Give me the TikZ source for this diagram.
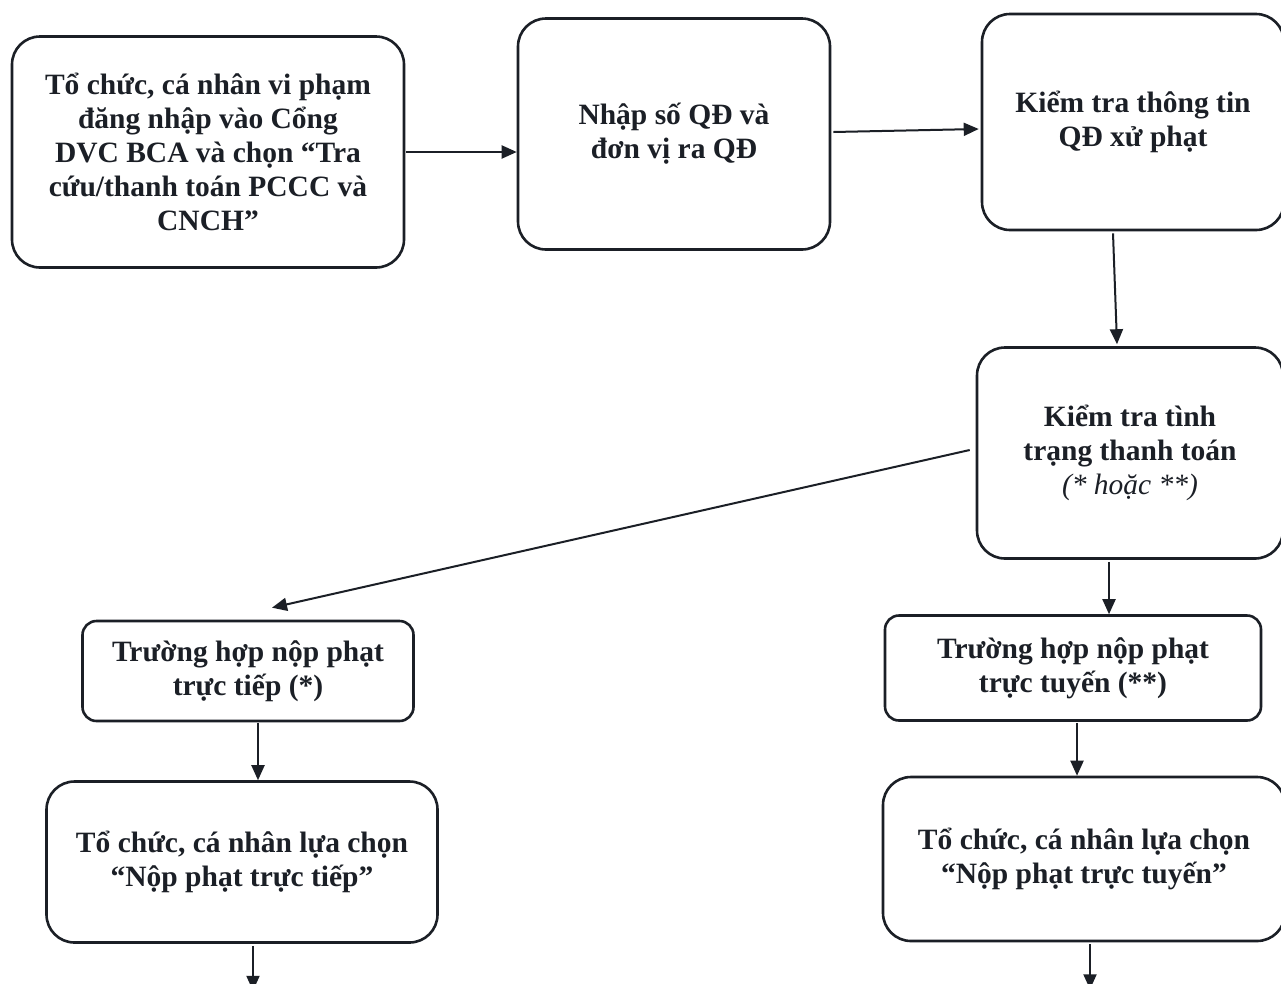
\documentclass[tikz,border=0pt]{standalone}
\usepackage{fontspec}
\setmainfont{Liberation Serif}
\usetikzlibrary{calc,arrows.meta}
\definecolor{ink}{HTML}{1B1F26}
\begin{document}
\begin{tikzpicture}[x=1pt,y=-1pt,
  box/.style={draw=ink,line width=2.6pt,rounded corners=28pt,fill=white,text=ink,
    align=center,font=\fontsize{29.5}{34}\selectfont\bfseries,inner sep=4pt},
  smallbox/.style={box,rounded corners=14pt},
  flow/.style={draw=ink,line width=2pt,-{Triangle[length=15pt,width=13pt]}}]
\useasboundingbox (0,0) rectangle (1281,983);
\clip (0,0) rectangle (1281,983);
\fill[white] (0,0) rectangle (1281,983);

% process boxes
\node[box,minimum width=392pt,minimum height=231pt] (login) at (208,152)
  {Tổ chức, cá nhân vi phạm\\đăng nhập vào Cổng\\DVC BCA và chọn “Tra\\cứu/thanh toán PCCC và\\CNCH”};
\node[box,minimum width=312pt,minimum height=231pt] (input) at (674,134)
  {Nhập số QĐ và\\đơn vị ra QĐ};
\node[box,minimum width=302pt,minimum height=216pt] (check) at (1133,122)
  {Kiểm tra thông tin\\QĐ xử phạt};
\node[box,minimum width=306pt,minimum height=211pt] (status) at (1130,453)
  {Kiểm tra tình\\trạng thanh toán\\{\mdseries\itshape (* hoặc **)}};
\node[smallbox,minimum width=331pt,minimum height=100pt] (direct) at (248,671)
  {Trường hợp nộp phạt\\trực tiếp (*)};
\node[smallbox,minimum width=376pt,minimum height=105pt] (online) at (1073,668)
  {Trường hợp nộp phạt\\trực tuyến (**)};
\node[box,minimum width=391pt,minimum height=161pt] (pickdirect) at (242,862)
  {Tổ chức, cá nhân lựa chọn\\“Nộp phạt trực tiếp”};
\node[box,minimum width=402pt,minimum height=164pt] (pickonline) at (1084,859)
  {Tổ chức, cá nhân lựa chọn\\“Nộp phạt trực tuyến”};

% connector end points
\coordinate (c1a) at ($(check.south)+(-20,2)$);
\coordinate (c1b) at ($(status.north)+(-13,-2)$);
\coordinate (diagend) at ($(direct.north)+(24,-12)$);
\coordinate (s1a) at ($(status.south)+(-21,2)$);
\coordinate (s1b) at (s1a |- online.north);
\coordinate (d1a) at ($(direct.south)+(10,1)$);
\coordinate (d1b) at (d1a |- pickdirect.north);
\coordinate (o1a) at ($(online.south)+(4,1)$);
\coordinate (o1b) at (o1a |- pickonline.north);
\coordinate (pd) at ($(pickdirect.south)+(11,2)$);
\coordinate (nextdirect) at ($(pd)+(0,45)$);
\coordinate (po) at ($(pickonline.south)+(6,2)$);
\coordinate (nextonline) at ($(po)+(0,45)$);

% connectors
\draw[flow] ($(login.east)+(1,0)$) -- (login.east -| input.west);
\draw[flow] ($(input.east)+(2,-2)$) -- ($(input.east -| check.west)+(-2,-5)$);
\draw[flow] (c1a) -- (c1b);
\draw[flow] ($(status.west)+(-6,-3)$) -- (diagend);
\draw[flow] (s1a) -- (s1b);
\draw[flow] (d1a) -- (d1b);
\draw[flow] (o1a) -- (o1b);
\draw[flow] (pd) -- (nextdirect);
\draw[flow] (po) -- (nextonline);
\end{tikzpicture}
\end{document}
